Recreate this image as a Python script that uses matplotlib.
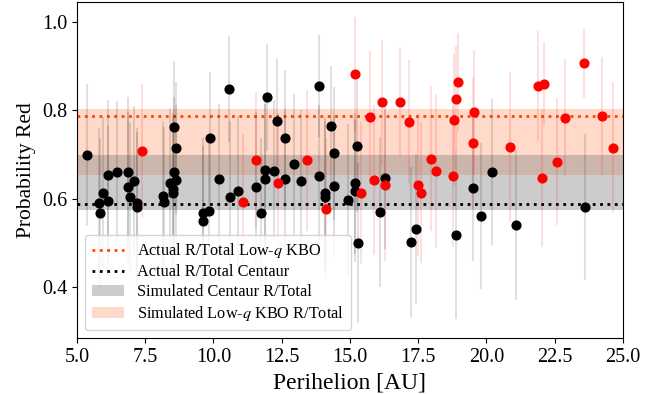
import matplotlib
matplotlib.use("Agg")
import matplotlib.pyplot as plt
from matplotlib.patches import Patch
from matplotlib.lines import Line2D

plt.rcParams['font.family'] = ['Liberation Serif', 'DejaVu Serif']
plt.rcParams['mathtext.fontset'] = 'stix'

# Centaurs (black)
cen_q = [5.38, 5.79, 5.84, 5.95, 6.14, 6.14, 6.48, 6.88, 6.88, 6.94, 7.10, 7.21, 7.21,
         8.16, 8.20, 8.40, 8.52, 8.52, 8.54, 8.54, 8.63, 8.63, 9.63, 9.63, 9.84, 9.87,
         10.20, 10.56, 10.60, 10.91, 11.56, 11.73, 11.89, 11.89, 11.97, 12.20, 12.31,
         12.63, 12.63, 12.95, 13.19, 13.87, 13.87, 14.10, 14.10, 14.31, 14.43, 14.43,
         14.93, 15.19, 15.19, 15.26, 15.29, 16.10, 16.29, 17.22, 17.42, 18.88, 19.52,
         19.81, 20.21, 21.07, 23.61]
cen_p = [0.699, 0.591, 0.567, 0.614, 0.653, 0.595, 0.660, 0.661, 0.627, 0.603, 0.640, 0.591, 0.582,
         0.606, 0.593, 0.636, 0.623, 0.612, 0.661, 0.762, 0.715, 0.642, 0.568, 0.550, 0.572, 0.737,
         0.644, 0.849, 0.605, 0.618, 0.627, 0.568, 0.665, 0.644, 0.829, 0.663, 0.776,
         0.737, 0.644, 0.678, 0.641, 0.855, 0.651, 0.614, 0.605, 0.765, 0.703, 0.629,
         0.598, 0.635, 0.618, 0.719, 0.500, 0.570, 0.647, 0.502, 0.531, 0.517, 0.624,
         0.562, 0.660, 0.541, 0.581]
cen_err = [0.16, 0.17, 0.17, 0.17, 0.17, 0.17, 0.16, 0.17, 0.17, 0.17, 0.17, 0.17, 0.17,
           0.17, 0.17, 0.17, 0.17, 0.17, 0.17, 0.15, 0.15, 0.17, 0.17, 0.17, 0.17, 0.15,
           0.17, 0.12, 0.17, 0.17, 0.17, 0.17, 0.17, 0.17, 0.12, 0.16, 0.14,
           0.155, 0.16, 0.16, 0.16, 0.115, 0.16, 0.17, 0.17, 0.135, 0.15, 0.16,
           0.17, 0.16, 0.16, 0.15, 0.18, 0.17, 0.16, 0.17, 0.17, 0.19, 0.165,
           0.165, 0.165, 0.17, 0.165]

# Low-q KBOs (red)
kbo_q = [7.38, 11.09, 11.56, 12.35, 13.44, 14.12, 15.17, 15.39, 15.73, 15.88, 16.17, 16.29,
         16.82, 17.17, 17.49, 17.60, 17.98, 18.16, 18.78, 18.82, 18.88, 18.94, 19.52, 19.54,
         20.86, 21.87, 22.04, 22.10, 22.57, 22.86, 23.58, 24.24, 24.62]
kbo_p = [0.709, 0.592, 0.687, 0.635, 0.687, 0.577, 0.881, 0.613, 0.784, 0.642, 0.819, 0.630,
         0.819, 0.773, 0.631, 0.614, 0.691, 0.663, 0.651, 0.778, 0.825, 0.864, 0.726, 0.796,
         0.717, 0.855, 0.647, 0.859, 0.684, 0.782, 0.907, 0.787, 0.715]
kbo_err = [0.15, 0.155, 0.155, 0.16, 0.16, 0.16, 0.13, 0.16, 0.15, 0.17, 0.14, 0.17,
           0.125, 0.14, 0.16, 0.16, 0.165, 0.175, 0.16, 0.15, 0.12, 0.11, 0.15, 0.14,
           0.17, 0.125, 0.155, 0.095, 0.143, 0.133, 0.08, 0.133, 0.148]

actual_kbo = 0.787
actual_cen = 0.588
sim_kbo = (0.653, 0.804)
sim_cen = (0.575, 0.698)

fig = plt.figure(figsize=(6.65, 3.94), dpi=100)
ax = fig.add_axes([0.1158, 0.142, 0.821, 0.853])

ax.axhspan(sim_kbo[0], sim_kbo[1], color='lightsalmon', alpha=0.4, lw=0, zorder=0)
ax.axhspan(sim_cen[0], sim_cen[1], color='gray', alpha=0.4, lw=0, zorder=0.5)
ax.axhline(actual_kbo, color='orangered', ls=':', lw=2, zorder=1)
ax.axhline(actual_cen, color='black', ls=':', lw=2, zorder=1)

ax.errorbar(cen_q, cen_p, yerr=cen_err, fmt='none', ecolor=(0, 0, 0, 0.12), elinewidth=1.5, zorder=2)
ax.errorbar(kbo_q, kbo_p, yerr=kbo_err, fmt='none', ecolor=(1, 0, 0, 0.12), elinewidth=1.5, zorder=2)
ax.plot(cen_q, cen_p, 'o', color='black', ms=6.3, zorder=3)
ax.plot(kbo_q, kbo_p, 'o', color='red', ms=6.3, zorder=3)

ax.set_xlim(5, 25)
ax.set_ylim(0.285, 1.045)
ax.set_xticks([5.0, 7.5, 10.0, 12.5, 15.0, 17.5, 20.0, 22.5, 25.0])
ax.set_yticks([0.4, 0.6, 0.8, 1.0])
ax.tick_params(labelsize=14.5)
ax.set_xlabel('Perihelion [AU]', fontsize=17)
ax.set_ylabel('Probability Red', fontsize=15.5)

handles = [Line2D([], [], color='orangered', ls=':', lw=2),
           Line2D([], [], color='black', ls=':', lw=2),
           Patch(facecolor='gray', alpha=0.4),
           Patch(facecolor='lightsalmon', alpha=0.4)]
labels = ['Actual R/Total Low-$q$ KBO', 'Actual R/Total Centaur',
          'Simulated Centaur R/Total', 'Simulated Low-$q$ KBO R/Total']
ax.legend(handles, labels, loc='lower left', fontsize=11.7, labelspacing=0.25,
          borderaxespad=0.5, framealpha=0.8)

fig.savefig('out.png', dpi=100)
